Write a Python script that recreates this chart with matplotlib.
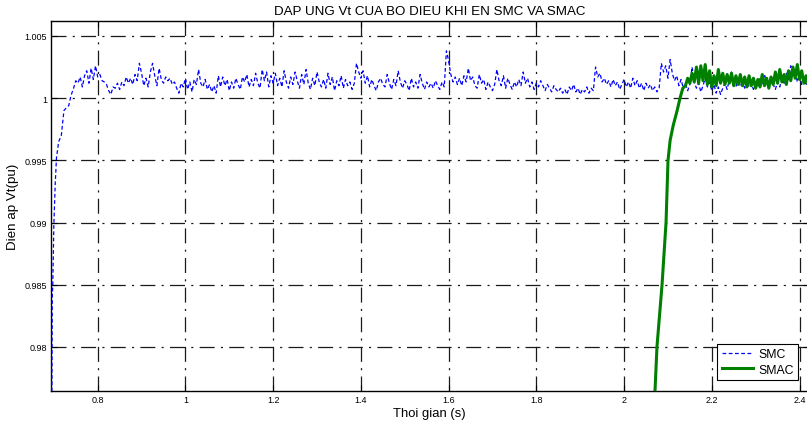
"""Dap ung Vt cua bo dieu khien SMC va SMAC (step response, pu)."""
import numpy as np
import matplotlib
matplotlib.use("Agg")
import matplotlib.pyplot as plt

plt.rcParams["font.family"] = ["Liberation Sans", "DejaVu Sans"]

# ---- SMC: initial rise (uneven samples) ----
smc_rise_t = [0.6935, 0.6955, 0.6964, 0.6975, 0.700, 0.703, 0.706, 0.711,
              0.717, 0.723, 0.728, 0.734, 0.739, 0.745, 0.750]
smc_rise_v = [0.9760, 0.9760, 0.9840, 0.9850, 0.9898, 0.9930, 0.9952, 0.9965,
              0.9970, 0.9990, 0.9992, 0.9994, 1.0002, 1.0008, 1.0014]

# ---- SMC: steady part, sampled every 5 ms from 0.755 s ----
SMC_T0, SMC_DT = 0.755, 0.005
smc_v = [
    1.0012, 1.0017, 1.0009, 1.0018, 1.0022, 1.0012, 1.0024, 1.0015, 1.0026, 1.0017,
    1.0019, 1.0014, 1.0013, 1.0011, 1.0006, 1.0003, 1.0009, 1.0008, 1.0012, 1.0007,
    1.0013, 1.0010, 1.0017, 1.0012, 1.0016, 1.0011, 1.0019, 1.0014, 1.0028, 1.0020,
    1.0010, 1.0016, 1.0009, 1.0021, 1.0028, 1.0018, 1.0010, 1.0024, 1.0015, 1.0012,
    1.0017, 1.0014, 1.0016, 1.0011, 1.0013, 1.0008, 1.0004, 1.0012, 1.0009, 1.0016,
    1.0007, 1.0013, 1.0005, 1.0015, 1.0011, 1.0023, 1.0012, 1.0009, 1.0015, 1.0007,
    1.0011, 1.0005, 1.0010, 1.0004, 1.0018, 1.0009, 1.0017, 1.0010, 1.0015, 1.0006,
    1.0013, 1.0008, 1.0016, 1.0011, 1.0007, 1.0017, 1.0013, 1.0019, 1.0009, 1.0015,
    1.0010, 1.0020, 1.0012, 1.0008, 1.0023, 1.0014, 1.0021, 1.0009, 1.0018, 1.0012,
    1.0020, 1.0010, 1.0016, 1.0009, 1.0022, 1.0013, 1.0008, 1.0017, 1.0011, 1.0021,
    1.0014, 1.0008, 1.0019, 1.0011, 1.0023, 1.0012, 1.0007, 1.0016, 1.0010, 1.0021,
    1.0013, 1.0009, 1.0015, 1.0008, 1.0020, 1.0011, 1.0017, 1.0006, 1.0014, 1.0010,
    1.0018, 1.0008, 1.0015, 1.0010, 1.0013, 1.0007, 1.0012, 1.0028, 1.0021, 1.0016,
    1.0022, 1.0012, 1.0018, 1.0009, 1.0015, 1.0010, 1.0006, 1.0013, 1.0016, 1.0011,
    1.0009, 1.0019, 1.0012, 1.0007, 1.0015, 1.0010, 1.0022, 1.0013, 1.0008, 1.0014,
    1.0011, 1.0006, 1.0016, 1.0009, 1.0013, 1.0008, 1.0019, 1.0012, 1.0007, 1.0013,
    1.0009, 1.0012, 1.0008, 1.0014, 1.0010, 1.0007, 1.0013, 1.0009, 1.0038, 1.0030,
    1.0019, 1.0013, 1.0017, 1.0011, 1.0016, 1.0010, 1.0018, 1.0013, 1.0024, 1.0014,
    1.0017, 1.0010, 1.0008, 1.0019, 1.0012, 1.0015, 1.0007, 1.0013, 1.0009, 1.0006,
    1.0011, 1.0023, 1.0014, 1.0010, 1.0018, 1.0008, 1.0016, 1.0011, 1.0007, 1.0013,
    1.0009, 1.0015, 1.0010, 1.0021, 1.0012, 1.0016, 1.0009, 1.0013, 1.0007, 1.0012,
    1.0009, 1.0014, 1.0010, 1.0006, 1.0011, 1.0008, 1.0005, 1.0010, 1.0007, 1.0005,
    1.0008, 1.0004, 1.0007, 1.0003, 1.0009, 1.0006, 1.0011, 1.0005, 1.0008, 1.0003,
    1.0007, 1.0005, 1.0009, 1.0004, 1.0008, 1.0006, 1.0025, 1.0017, 1.0020, 1.0013,
    1.0016, 1.0011, 1.0014, 1.0009, 1.0015, 1.0010, 1.0013, 1.0007, 1.0011, 1.0015,
    1.0009, 1.0013, 1.0008, 1.0016, 1.0010, 1.0014, 1.0008, 1.0012, 1.0006, 1.0012,
    1.0008, 1.0011, 1.0006, 1.0009, 1.0005, 1.0008, 1.0028, 1.0021, 1.0026, 1.0016,
    1.0031, 1.0020, 1.0014, 1.0018, 1.0010, 1.0015, 1.0008, 1.0012, 1.0006, 1.0011,
    1.0025, 1.0013, 1.0008, 1.0012, 1.0005, 1.0010, 1.0016, 1.0009, 1.0013, 1.0006,
    1.0011, 1.0004, 1.0009, 1.0003, 1.0008, 1.0012, 1.0007, 1.0015, 1.0021, 1.0012,
    1.0009, 1.0016, 1.0010, 1.0013, 1.0008, 1.0014, 1.0009, 1.0012, 1.0007, 1.0013,
    1.0010, 1.0016, 1.0012, 1.0019, 1.0013, 1.0010, 1.0016, 1.0011, 1.0007, 1.0013,
    1.0009, 1.0016, 1.0012, 1.0020, 1.0015, 1.0026, 1.0018, 1.0022, 1.0013, 1.0019,
    1.0011, 1.0016, 1.0010, 1.0014,
]

# ---- SMAC: rise (uneven samples) ----
smac_rise_t = [2.068, 2.0706, 2.075, 2.0866, 2.0957, 2.1002, 2.105, 2.112,
               2.121, 2.1276, 2.134]
smac_rise_v = [0.9750, 0.9765, 0.9800, 0.9850, 0.9900, 0.9950, 0.9966, 0.9978,
               0.9990, 1.0000, 1.0008]

# ---- SMAC: steady part, sampled every 5 ms from 2.14 s ----
SMAC_T0, SMAC_DT = 2.14, 0.005
smac_v = [
    1.0010, 1.0016, 1.0012, 1.0020, 1.0013, 1.0025, 1.0012, 1.0026, 1.0014, 1.0027,
    1.0011, 1.0022, 1.0009, 1.0018, 1.0010, 1.0023, 1.0012, 1.0020, 1.0011, 1.0019,
    1.0012, 1.0020, 1.0010, 1.0018, 1.0011, 1.0019, 1.0010, 1.0017, 1.0009, 1.0018,
    1.0010, 1.0016, 1.0008, 1.0015, 1.0009, 1.0019, 1.0010, 1.0016, 1.0008, 1.0017,
    1.0011, 1.0021, 1.0012, 1.0023, 1.0013, 1.0019, 1.0011, 1.0022, 1.0014, 1.0025,
    1.0016, 1.0027, 1.0015, 1.0022, 1.0012, 1.0018, 1.0011, 1.0015,
]

X_TICKS = [0.8, 1.0, 1.2, 1.4, 1.6, 1.8, 2.0, 2.2, 2.4]
X_TICKLABELS = ["0.8", "1", "1.2", "1.4", "1.6", "1.8", "2", "2.2", "2.4"]
Y_TICKS = [0.98, 0.985, 0.99, 0.995, 1.0, 1.005]
Y_TICKLABELS = ["0.98", "0.985", "0.99", "0.995", "1", "1.005"]


def main():
    smc_t = np.concatenate([smc_rise_t, SMC_T0 + SMC_DT * np.arange(len(smc_v))])
    smc = np.concatenate([smc_rise_v, smc_v])
    smac_t = np.concatenate([smac_rise_t, SMAC_T0 + SMAC_DT * np.arange(len(smac_v))])
    smac = np.concatenate([smac_rise_v, smac_v])

    fig = plt.figure(figsize=(8.07, 4.27), dpi=100)
    ax = fig.add_axes([51 / 807, 35 / 427, 757.5 / 807, 370 / 427])

    ax.plot(smc_t, smc, color="#0000ff", lw=0.9, linestyle=(0, (3, 2)), label="SMC", zorder=3)
    ax.plot(smac_t, smac, color="#008000", lw=2.2, label="SMAC", zorder=4)

    ax.set_xlim(0.6935, 2.4205)
    ax.set_ylim(0.97646, 1.0062)
    ax.set_xticks(X_TICKS)
    ax.set_xticklabels(X_TICKLABELS)
    ax.set_yticks(Y_TICKS)
    ax.set_yticklabels(Y_TICKLABELS)
    ax.tick_params(direction="in", length=4, width=0.8, labelsize=6.5,
                   top=True, right=True, pad=3)

    ax.grid(True, color="0.1", lw=0.9, linestyle=(0, (12, 5, 1.7, 5)))
    ax.set_axisbelow(True)
    for sp in ax.spines.values():
        sp.set_linewidth(1.0)

    ax.set_title("DAP UNG Vt CUA BO DIEU KHI EN SMC VA SMAC", fontsize=9.6, pad=5)
    ax.set_xlabel("Thoi gian (s)", fontsize=9.4, labelpad=2)
    ax.set_ylabel("Dien ap Vt(pu)", fontsize=9.6, labelpad=4)

    # legend box sits at roughly x 716-798 px, y 342-381 px in the reference
    leg = ax.legend(loc="lower right", fontsize=8.8, fancybox=False, framealpha=1,
                    edgecolor="black", handlelength=2.6, borderaxespad=0.0,
                    borderpad=0.35, labelspacing=0.3, handletextpad=0.4,
                    bbox_to_anchor=(790 / 757.5 - 51 / 757.5 + 8 / 757.5, 11 / 370))
    leg.get_frame().set_linewidth(0.8)

    fig.savefig("out.png", dpi=100)
    plt.close(fig)


if __name__ == "__main__":
    main()
